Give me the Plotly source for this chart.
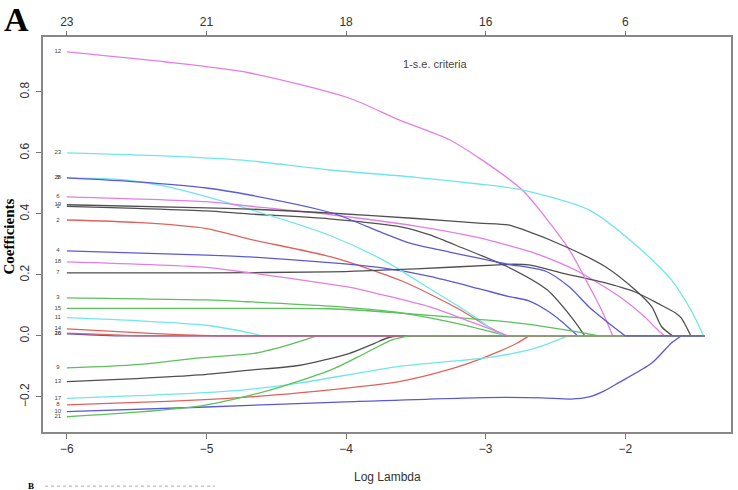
"""
LASSO coefficient paths (glmnet style) recreated with Plotly.
"""
import plotly.graph_objects as go

# log(lambda) where the path stops on the right
LOG_LAMBDA_END = -1.43

# variable number, in drawing order (same as glmnet: by index)
var_ids = [1, 2, 3, 4, 5, 6, 7, 8, 9, 10, 11, 12, 13, 14, 15, 16, 17, 18, 19, 20, 21, 23, 28]

# knots of each coefficient path; last knot = where it hits 0
path_x = [
    [-6, -5.5, -5, -4.7, -4.12, -3.6, -3.4, -3.17, -2.84, -2.56, -2.37, -2.29],          # 1
    [-6, -5.5, -5, -4.7, -4.1, -3.6, -3.2, -3.0, -2.86],                                  # 2
    [-6, -5, -4.7, -4.12, -3.64, -3.2, -2.85],                                            # 3
    [-6, -5, -4.69, -4.12, -3.74, -3.4, -3.05, -2.84, -2.69, -2.55, -2.45, -2.39, -2.34], # 4
    [-6, -5.6, -5.29, -4.69, -4.12, -3.74, -3.39, -3.12, -2.95, -2.87],                   # 5
    [-6, -5, -4.7, -4.12, -3.5, -3.05, -2.84, -2.64, -2.34, -2.03, -1.86, -1.78, -1.72],  # 6
    [-6, -5, -4.12, -3.5, -2.91, -2.8, -2.69, -2.46, -2.17, -1.93, -1.76, -1.64, -1.6, -1.53],  # 7
    [-6, -5.5, -5.05, -4.69, -4.34, -3.62, -3.26, -3.05, -2.9, -2.78, -2.69],             # 8
    [-6, -5.5, -5.05, -4.64, -4.4, -4.21],                                                # 9
    [-6, -5, -4, -3, -2.6, -2.39, -2.26, -2.15, -2.05, -1.81, -1.67, -1.6],               # 10
    [-6, -5.5, -5, -4.69, -4.6],                                                          # 11
    [-6, -5.29, -4.69, -3.98, -3.62, -3.26, -3.05, -2.74, -2.41, -2.29, -2.17, -2.09],    # 12
    [-6, -5.5, -5.05, -4.69, -4.34, -3.98, -3.8, -3.7, -3.62],                            # 13
    [-6, -5.6, -5.2, -4.9],                                                               # 14
    [-6, -5, -4.7, -4.12, -3.64, -3.05, -2.84, -2.57, -2.3, -2.19],                       # 15
    [-6, -5.8, -5.65],                                                                    # 16
    [-6, -5.5, -5.05, -4.69, -4.34, -3.62, -3.0, -2.69, -2.55, -2.41],                    # 17
    [-6, -5, -4.69, -4.12, -3.98, -3.4, -3.1, -2.91, -2.84],                              # 18
    [-6, -5, -4.69, -4.12, -3.5, -3.05, -2.84, -2.74, -2.41, -2.14, -1.93, -1.81, -1.74, -1.66],  # 19
    [-6, -5.7, -5.5],                                                                     # 20
    [-6, -5.5, -5.05, -4.69, -4.46, -4.1, -3.86, -3.67, -3.55],                           # 21
    [-6, -5.3, -4.69, -4.12, -3.5, -3.05, -2.74, -2.26, -1.91, -1.67, -1.53, -1.47, -1.44],  # 23
    [-6, -5.5, -5, -4.69, -4.1, -3.74, -3.55, -3.26, -3.05, -2.84, -2.57, -2.4, -2.26, -2.1, -2.0],  # 28
]
path_y = [
    [0.425, 0.418, 0.41, 0.40, 0.384, 0.357, 0.331, 0.289, 0.226, 0.151, 0.052, 0],
    [0.38, 0.372, 0.352, 0.318, 0.258, 0.18, 0.09, 0.035, 0],
    [0.125, 0.118, 0.112, 0.098, 0.078, 0.04, 0],
    [0.279, 0.265, 0.259, 0.24, 0.223, 0.195, 0.155, 0.13, 0.115, 0.08, 0.045, 0.02, 0],
    [0.518, 0.512, 0.49, 0.415, 0.33, 0.25, 0.152, 0.075, 0.02, 0],
    [0.456, 0.44, 0.426, 0.398, 0.36, 0.322, 0.297, 0.27, 0.212, 0.125, 0.062, 0.025, 0],
    [0.207, 0.207, 0.21, 0.22, 0.233, 0.235, 0.233, 0.207, 0.177, 0.144, 0.105, 0.075, 0.059, 0],
    [-0.226, -0.218, -0.21, -0.2, -0.187, -0.15, -0.11, -0.078, -0.05, -0.025, 0],
    [-0.105, -0.094, -0.072, -0.056, -0.028, 0],
    [-0.248, -0.233, -0.216, -0.202, -0.203, -0.207, -0.2, -0.18, -0.154, -0.089, -0.023, 0],
    [0.06, 0.05, 0.035, 0.01, 0],
    [0.931, 0.898, 0.862, 0.78, 0.708, 0.643, 0.584, 0.479, 0.289, 0.19, 0.085, 0],
    [-0.15, -0.14, -0.128, -0.112, -0.097, -0.058, -0.025, -0.006, 0],
    [0.023, 0.013, 0.004, 0],
    [0.09, 0.09, 0.09, 0.089, 0.076, 0.054, 0.046, 0.03, 0.01, 0],
    [0.007, 0.003, 0],
    [-0.205, -0.196, -0.187, -0.175, -0.155, -0.10, -0.072, -0.046, -0.025, 0],
    [0.243, 0.225, 0.207, 0.17, 0.16, 0.095, 0.045, 0.013, 0],
    [0.43, 0.42, 0.416, 0.403, 0.385, 0.37, 0.364, 0.35, 0.289, 0.226, 0.151, 0.095, 0.03, 0],
    [0.009, 0.004, 0],
    [-0.265, -0.25, -0.23, -0.195, -0.166, -0.11, -0.056, -0.013, 0],
    [0.60, 0.59, 0.574, 0.544, 0.52, 0.498, 0.479, 0.413, 0.292, 0.184, 0.085, 0.03, 0],
    [0.518, 0.505, 0.485, 0.462, 0.403, 0.338, 0.305, 0.275, 0.255, 0.235, 0.212, 0.16, 0.095, 0.035, 0],
]

# bottom axis ticks and the number of non-zero coefficients shown on top
x_ticks = [-6, -5, -4, -3, -2]
df_labels = ["23", "21", "18", "16", "6"]
y_ticks = [-0.2, 0.0, 0.2, 0.4, 0.6, 0.8]

# R default palette 1:6 (as it looks in the blurry screenshot)
palette = ["#505050", "#e0625c", "#5cc05c", "#5a5ad6", "#70e6ec", "#e47ee4"]

fig = go.Figure()

for vid, xs, ys in zip(var_ids, path_x, path_y):
    col = palette[(vid - 1) % 6]
    # active part of the path
    fig.add_trace(go.Scatter(
        x=xs, y=ys, mode="lines",
        line=dict(color=col, width=1.3, shape="spline", smoothing=0.7),
        showlegend=False, hoverinfo="skip",
    ))
    # coefficient stays at zero after it drops out
    fig.add_trace(go.Scatter(
        x=[xs[-1], LOG_LAMBDA_END], y=[0, 0], mode="lines",
        line=dict(color=col, width=1.3),
        showlegend=False, hoverinfo="skip",
    ))

# variable numbers at the left end of each path
fig.add_trace(go.Scatter(
    x=[xs[0] - 0.065 for xs in path_x],
    y=[ys[0] for ys in path_y],
    mode="text",
    text=[str(v) for v in var_ids],
    textfont=dict(size=6, color="#444", family="Liberation Sans"),
    showlegend=False, hoverinfo="skip",
))

# dummy trace so the top axis is drawn
fig.add_trace(go.Scatter(x=[x_ticks[0]], y=[0], xaxis="x2", mode="markers",
                         marker=dict(opacity=0), showlegend=False, hoverinfo="skip"))

x_range = [-6.171, -1.243]
axis_font = dict(family="Liberation Sans", size=12, color="#333")

fig.update_layout(
    width=738, height=490,
    margin=dict(l=43, r=5, t=37, b=58),
    paper_bgcolor="white", plot_bgcolor="white",
    xaxis=dict(
        range=x_range, tickvals=x_ticks, ticks="outside", ticklen=5,
        tickcolor="#777", tickwidth=1.2, tickfont=axis_font,
        showline=True, linecolor="#888", linewidth=1.5, mirror=True,
        showgrid=False, zeroline=False,
    ),
    xaxis2=dict(
        overlaying="x", side="top", range=x_range,
        tickvals=x_ticks, ticktext=df_labels, ticks="outside", ticklen=5,
        tickcolor="#777", tickwidth=1.2, tickfont=axis_font,
        showline=False, showgrid=False, zeroline=False,
    ),
    yaxis=dict(
        range=[-0.315, 0.98], tickvals=y_ticks, tickformat=".1f",
        tickangle=-90, ticks="outside", ticklen=5, ticklabelstandoff=2,
        tickcolor="#777", tickwidth=1.2, tickfont=axis_font,
        showline=True, linecolor="#888", linewidth=1.5, mirror=True,
        showgrid=False, zeroline=False,
    ),
    annotations=[
        dict(text="1-s.e. criteria", x=-3.36, y=0.892, xref="x", yref="y",
             showarrow=False, font=dict(family="Liberation Sans", size=11, color="#444")),
        dict(text="Log Lambda", x=0.5, y=-0.115, xref="paper", yref="paper",
             xanchor="center", yanchor="middle", showarrow=False,
             font=dict(family="Liberation Sans", size=12, color="#333")),
        dict(text="<b>Coefficients</b>", x=-0.05, y=0.494, xref="paper", yref="paper",
             textangle=-90, xanchor="center", yanchor="middle", showarrow=False,
             font=dict(family="Liberation Serif", size=15, color="black")),
        dict(text="<b>A</b>", x=-0.059, y=1.045, xref="paper", yref="paper",
             xanchor="left", yanchor="middle", showarrow=False,
             font=dict(family="Liberation Serif", size=34, color="black")),
        dict(text="<b>B</b>", x=-0.017, y=-0.137, xref="paper", yref="paper",
             xanchor="center", yanchor="middle", showarrow=False,
             font=dict(family="Liberation Serif", size=9, color="black")),
    ],
    shapes=[
        dict(type="line", xref="paper", yref="paper", x0=0.003, x1=0.25,
             y0=-0.137, y1=-0.137, line=dict(color="#aaa", width=1, dash="dot")),
    ],
)

# the page body has a default margin; drop it so the figure fills the window
fig.write_html("out.html", config={"displayModeBar": False},
               post_script="document.body.style.margin='0px';")
